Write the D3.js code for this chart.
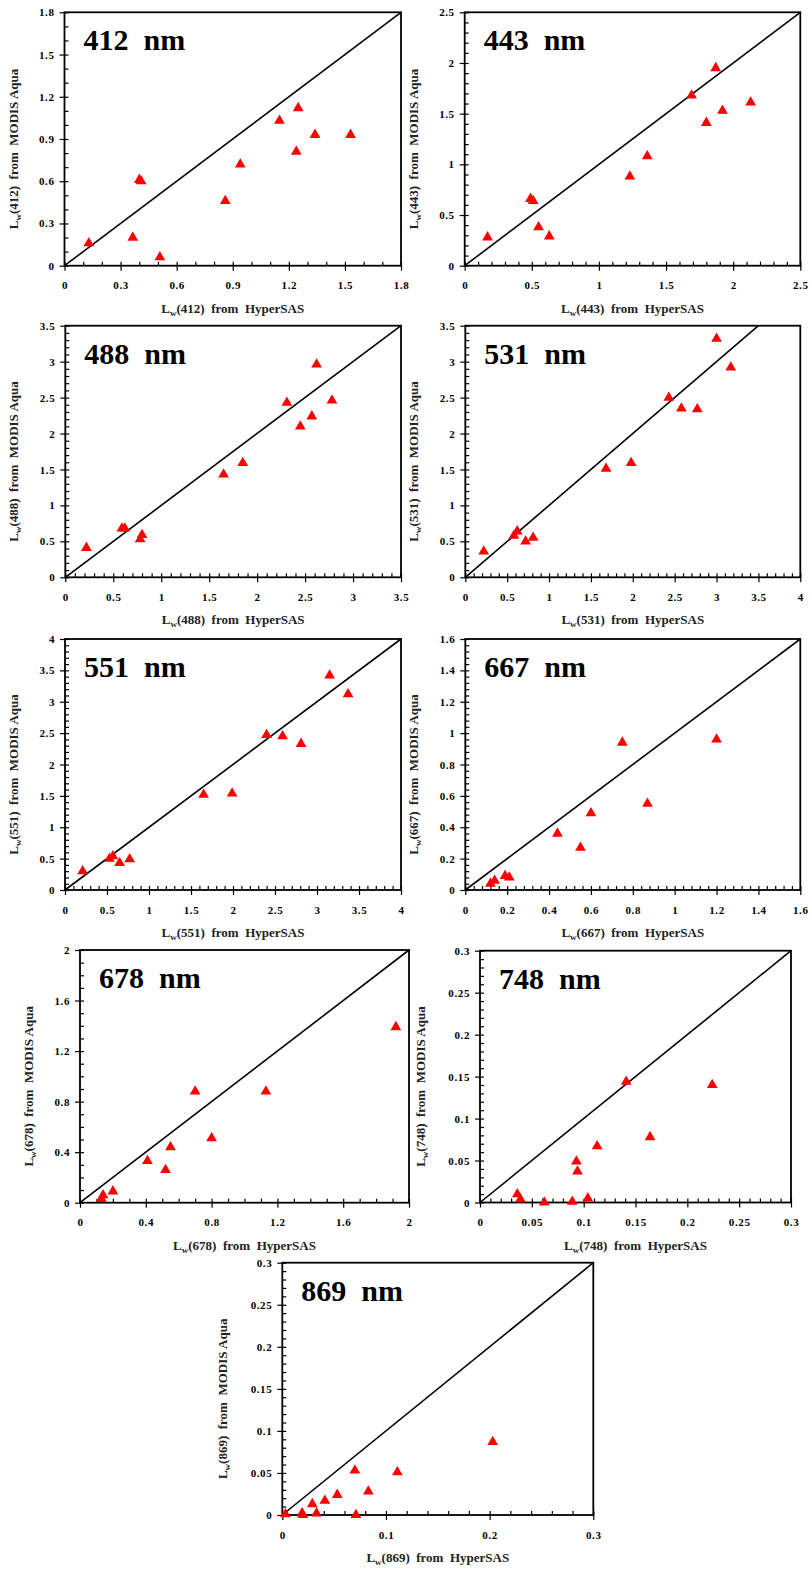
<!DOCTYPE html>
<html><head><meta charset="utf-8">
<script src="https://cdn.jsdelivr.net/npm/d3@7"></script>
<style>
body{margin:0;background:#fff}
svg{display:block}
text{font-family:"Liberation Serif","Times New Roman",serif;white-space:pre}
</style>
</head><body>
<script>
// ---- data ----
const bands = ["412","443","488","531","551","667","678","748","869"];

const x412 = [0.13,0.365,0.40,0.41,0.51,0.86,0.94,1.15,1.25,1.24,1.34,1.53];
const y412 = [0.16,0.20,0.61,0.60,0.06,0.46,0.72,1.03,1.12,0.81,0.93,0.93];
const x443 = [0.17,0.49,0.51,0.55,0.63,1.23,1.36,1.69,1.87,1.80,1.92,2.13];
const y443 = [0.28,0.66,0.64,0.38,0.29,0.88,1.08,1.68,1.95,1.41,1.53,1.61];
const x488 = [0.22,0.59,0.62,0.78,0.80,1.65,1.85,2.31,2.62,2.78,2.57,2.45];
const y488 = [0.41,0.68,0.68,0.53,0.59,1.43,1.59,2.43,2.96,2.46,2.24,2.10];
const x531 = [0.22,0.58,0.62,0.72,0.81,1.68,1.98,2.43,2.58,2.77,3.00,3.17];
const y531 = [0.36,0.58,0.64,0.50,0.55,1.51,1.59,2.50,2.35,2.34,3.32,2.92];
const x551 = [0.21,0.53,0.57,0.65,0.77,1.65,1.99,2.40,2.59,2.81,3.15,3.37];
const y551 = [0.30,0.50,0.54,0.43,0.49,1.52,1.54,2.47,2.45,2.33,3.42,3.12];
const x667 = [0.12,0.14,0.19,0.21,0.44,0.55,0.60,0.75,0.87,1.20];
const y667 = [0.04,0.06,0.09,0.08,0.36,0.27,0.49,0.94,0.55,0.96];
const x678 = [0.13,0.14,0.20,0.41,0.52,0.55,0.70,0.80,1.13,1.92];
const y678 = [0.03,0.06,0.09,0.33,0.26,0.44,0.88,0.51,0.88,1.39];
const x748 = [0.036,0.039,0.062,0.089,0.104,0.093,0.094,0.113,0.141,0.164,0.224];
const y748 = [0.010,0.004,0.000,0.001,0.005,0.049,0.037,0.067,0.144,0.078,0.140];
const x869 = [0.003,0.019,0.020,0.029,0.033,0.041,0.053,0.070,0.071,0.083,0.111,0.203];
const y869 = [0.001,0.002,0.000,0.013,0.002,0.017,0.024,0.053,0.000,0.028,0.051,0.087];

// tick labels
const ticks412 = [0,0.3,0.6,0.9,1.2,1.5,1.8];
const ticks443 = [0,0.5,1,1.5,2,2.5];
const ticks488 = [0,0.5,1,1.5,2,2.5,3,3.5];
const ticks4 = [0,0.5,1,1.5,2,2.5,3,3.5,4];
const ticks667 = [0,0.2,0.4,0.6,0.8,1,1.2,1.4,1.6];
const ticks678 = [0,0.4,0.8,1.2,1.6,2];
const ticks03a = [0,0.05,0.1,0.15,0.2,0.25,0.3];
const ticks03b = [0,0.1,0.2,0.3];

// ---- layout ----
const panels = [
  {band:"412", xs:x412, ys:y412, max:[1.8,1.8], xt:ticks412, yt:ticks412, xm:0.1, ym:0.1, box:[64.5,401,12.3,265.7]},
  {band:"443", xs:x443, ys:y443, max:[2.5,2.5], xt:ticks443, yt:ticks443, xm:0.1, ym:0.1, box:[464.7,800.3,12.3,265.7]},
  {band:"488", xs:x488, ys:y488, max:[3.5,3.5], xt:ticks488, yt:ticks488, xm:0.1, ym:0.1, box:[65.3,401,325.7,577.3]},
  {band:"531", xs:x531, ys:y531, max:[4,3.5], xt:ticks4, yt:ticks488, xm:0.1, ym:0.1, box:[465.3,800.3,325.7,577.3]},
  {band:"551", xs:x551, ys:y551, max:[4,4], xt:ticks4, yt:ticks4, xm:0.1, ym:0.1, box:[65,401,639,890]},
  {band:"667", xs:x667, ys:y667, max:[1.6,1.6], xt:ticks667, yt:ticks667, xm:0.04, ym:0.04, box:[465.3,800.3,639,890]},
  {band:"678", xs:x678, ys:y678, max:[2,2], xt:ticks678, yt:ticks678, xm:0.1, ym:0.1, box:[80,409,950,1202.7]},
  {band:"748", xs:x748, ys:y748, max:[0.3,0.3], xt:ticks03a, yt:ticks03a, xm:0.01, ym:0.01, box:[480,791,950.7,1202.5]},
  {band:"869", xs:x869, ys:y869, max:[0.3,0.3], xt:ticks03b, yt:ticks03a, xm:0.02, ym:0.01, box:[282.3,593.3,1262.7,1515]}
];

const W = 812, H = 1571;
const svg = d3.select("body").append("svg").attr("width", W).attr("height", H);
svg.append("rect").attr("width", W).attr("height", H).attr("fill", "#fff");

const fmt = v => String(+v.toFixed(3));
const minorVals = (max, step) => d3.range(0, Math.round(max/step) + 1).map(i => +(i*step).toFixed(4));

panels.forEach(p => {
  const [L, R, T, B] = p.box;
  const x = d3.scaleLinear().domain([0, p.max[0]]).range([L, R]);
  const y = d3.scaleLinear().domain([0, p.max[1]]).range([B, T]);
  const g = svg.append("g");

  const styleAxis = sel => {
    sel.select(".domain").remove();
    sel.selectAll("line").attr("stroke", "#000").attr("stroke-width", 1.2);
    sel.selectAll("text").attr("fill", "#000").attr("font-size", 11)
      .attr("font-weight", "bold").attr("letter-spacing", 0.6)
      .attr("font-family", '"Liberation Serif","Times New Roman",serif');
  };

  // minor ticks (inside)
  g.append("g").attr("transform", `translate(0,${B})`)
    .call(d3.axisBottom(x).tickValues(minorVals(p.max[0], p.xm)).tickSize(-4).tickFormat(""))
    .call(styleAxis);
  g.append("g").attr("transform", `translate(${L},0)`)
    .call(d3.axisLeft(y).tickValues(minorVals(p.max[1], p.ym)).tickSize(-4).tickFormat(""))
    .call(styleAxis);
  // major ticks (outside) with labels
  g.append("g").attr("transform", `translate(0,${B})`)
    .call(d3.axisBottom(x).tickValues(p.xt).tickSize(5).tickPadding(11).tickFormat(fmt))
    .call(styleAxis);
  g.append("g").attr("transform", `translate(${L},0)`)
    .call(d3.axisLeft(y).tickValues(p.yt).tickSize(5).tickPadding(5).tickFormat(fmt))
    .call(styleAxis);

  // frame
  g.append("rect").attr("x", L).attr("y", T).attr("width", R - L).attr("height", B - T)
    .attr("fill", "none").attr("stroke", "#000").attr("stroke-width", 1.8);

  // 1:1 line
  const m = Math.min(p.max[0], p.max[1]);
  g.append("line").attr("x1", x(0)).attr("y1", y(0)).attr("x2", x(m)).attr("y2", y(m))
    .attr("stroke", "#000").attr("stroke-width", 1.6);

  // points
  const tri = d3.symbol().type(d3.symbolTriangle).size(50);
  g.selectAll("path.pt").data(p.xs.map((v, i) => [v, p.ys[i]])).enter()
    .append("path").attr("class", "pt")
    .attr("d", tri)
    .attr("transform", d => `translate(${x(d[0])},${y(d[1])})`)
    .attr("fill", "#ff0000");

  // title
  g.append("text").attr("x", L + 19).attr("y", T + 38)
    .attr("font-size", 30).attr("font-weight", "bold").attr("fill", "#000")
    .text(p.band + "  nm");

  // x axis title
  const xt = g.append("text").attr("x", (L + R) / 2).attr("y", B + 47)
    .attr("text-anchor", "middle").attr("font-size", 13).attr("font-weight", "bold").attr("fill", "#222");
  xt.append("tspan").text("L");
  xt.append("tspan").attr("font-size", 9).attr("dy", 3).text("w");
  xt.append("tspan").attr("dy", -3).text(`(${p.band})  from  HyperSAS`);

  // y axis title
  const twoDec = p.yt.some(v => fmt(v).length > 3);
  const yx = L - (twoDec ? 55 : 47);
  const yc = (T + B) / 2 + 10;
  const yt = g.append("text").attr("transform", `translate(${yx},${yc}) rotate(-90)`)
    .attr("text-anchor", "middle").attr("font-size", 13).attr("font-weight", "bold").attr("fill", "#222");
  yt.append("tspan").text("L");
  yt.append("tspan").attr("font-size", 9).attr("dy", 3).text("w");
  yt.append("tspan").attr("dy", -3).text(`(${p.band})  from  MODIS Aqua`);
});
</script>
</body></html>
